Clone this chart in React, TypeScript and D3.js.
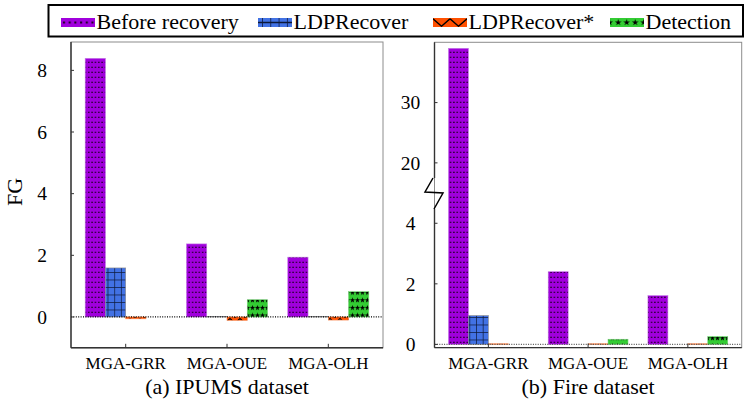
import * as d3 from "d3";
import React from "react";

const methods = ["MGA-GRR", "MGA-OUE", "MGA-OLH"];
const seriesNames = ["Before recovery", "LDPRecover", "LDPRecover*", "Detection"];

// (a) IPUMS dataset, FG values
const ipumsBefore = [8.39, 2.37, 1.94];
const ipumsLdp = [1.59, 0.02, 0.01];
const ipumsLdpStar = [-0.06, -0.11, -0.1];
const ipumsDetection = [0, 0.56, 0.82];
const ipumsTicks = [0, 2, 4, 6, 8];

// (b) Fire dataset, FG values (broken axis between 5 and 15)
const fireBefore = [39.0, 2.4, 1.61];
const fireLdp = [0.95, 0, 0];
const fireLdpStar = [0.02, 0.02, 0.02];
const fireDetection = [0, 0.17, 0.26];
const fireTicks = [0, 2, 4, 20, 30];

const font = "Liberation Serif";
const fills = ["url(#p-before)", "url(#p-ldp)", "url(#p-ldpstar)", "url(#p-detect)"];
const strokes = ["#c47ae6", "#8a8a8a", "#ff8a50", "#7ad67a"];
const starPath = d3.symbol(d3.symbolStar, 9)() as string;

const Panel = ({ x0, x1, top, bottom, y, data, ticks, labelX, title, zeroColor, brk }: any) => {
  const x = d3.scalePoint<string>().domain(methods).range([x0, x1]).padding(0.54);
  const bw = x.step() * 0.2;
  const inner = d3.scaleBand<number>().domain(d3.range(4)).range([-2 * bw, 2 * bw]);
  const y0 = y(0);
  const by = brk !== undefined ? y(brk) : null;

  return (
    <g>
      {methods.map((m, i) =>
        data.map((s: number[], k: number) => {
          const v = s[i];
          const yy = y(v);
          return (
            <rect
              key={m + k}
              x={(x(m) as number) + (inner(k) as number)}
              y={Math.min(yy, y0)}
              width={inner.bandwidth()}
              height={Math.abs(yy - y0)}
              fill={fills[k]}
              stroke={strokes[k]}
              strokeWidth={0.6}
            />
          );
        })
      )}
      <line x1={x0} x2={x1} y1={y0} y2={y0} stroke={zeroColor} strokeWidth={1.2} strokeDasharray="1,1.4" />
      <rect x={x0} y={top} width={x1 - x0} height={bottom - top} fill="none" stroke="#8c8c8c" strokeWidth={1} />
      <line x1={x0} x2={x1} y1={bottom} y2={bottom} stroke="#333" strokeWidth={1.4} />
      {by === null ? (
        <line x1={x0} x2={x0} y1={top} y2={bottom} stroke="#333" strokeWidth={1.4} />
      ) : (
        <g>
          <line x1={x0} x2={x0} y1={top} y2={by - 15} stroke="#333" strokeWidth={1.4} />
          <line x1={x0} x2={x0} y1={by + 16} y2={bottom} stroke="#333" strokeWidth={1.4} />
          <path
            d={`M${x0 - 1.5},${by - 15}L${x0 - 9.5},${by - 1}L${x0 + 8.5},${by}L${x0 - 0.5},${by + 16}`}
            fill="none"
            stroke="#000"
            strokeWidth={1.5}
          />
        </g>
      )}
      {ticks.map((t: number) => (
        <g key={t}>
          <line x1={x0} x2={x0 + 3} y1={y(t)} y2={y(t)} stroke="#333" />
          <text x={labelX} y={y(t) + 6.8} textAnchor="middle" fontSize={19.5} fontFamily={font}>
            {t}
          </text>
        </g>
      ))}
      {methods.map((m) => (
        <g key={m}>
          <line x1={x(m)} x2={x(m)} y1={bottom} y2={bottom - 4} stroke="#333" />
          <text x={x(m)} y={369} textAnchor="middle" fontSize={17} fontFamily={font}>
            {m}
          </text>
        </g>
      ))}
      <text x={(x0 + x1) / 2} y={394} textAnchor="middle" fontSize={22} fontFamily={font}>
        {title}
      </text>
    </g>
  );
};

const legendX = [61, 258, 433, 610];

export default function App() {
  const yIpums = d3.scaleLinear().domain([-1, 8.92]).range([347.8, 42]);
  const yFire = d3.scaleLinear().domain([0, 5, 15, 40]).range([344.4, 193, 193, 42.3]);

  return (
    <svg width={747} height={404} style={{ position: "absolute", left: 0, top: 0, background: "#fff" }}>
      <defs>
        <pattern id="p-before" patternUnits="userSpaceOnUse" width={3.35} height={5}>
          <rect width={3.35} height={5} fill="#a000dc" />
          <rect x={1} y={1.7} width={1.3} height={1.3} fill="#1a0020" />
        </pattern>
        <pattern id="p-ldp" patternUnits="userSpaceOnUse" width={6.7} height={7.5} x={0.3} y={2}>
          <rect width={6.7} height={7.5} fill="#4272e4" />
          <line x1={0} x2={0} y1={0} y2={7.5} stroke="#0c1838" strokeWidth={1.4} />
          <line x1={0} x2={6.7} y1={0} y2={0} stroke="#0c1838" strokeWidth={1.4} />
        </pattern>
        <pattern id="p-ldpstar" patternUnits="userSpaceOnUse" width={10} height={6}>
          <rect width={10} height={6} fill="#ff5000" />
          <path d="M0,0.5L5,5.5L10,0.5" fill="none" stroke="#000" strokeWidth={1.2} />
        </pattern>
        <pattern id="p-detect" patternUnits="userSpaceOnUse" width={5} height={7.6}>
          <rect width={5} height={7.6} fill="#33cc33" />
          <path d={starPath} transform="translate(2.5,3.8)" fill="#000" />
        </pattern>
        {/* legend swatch patterns */}
        <pattern id="l-before" patternUnits="userSpaceOnUse" x={legendX[0]} y={18} width={5.7} height={9}>
          <rect width={5.7} height={9} fill="#a000dc" />
          <rect x={2} y={3.5} width={2} height={2} fill="#1a0020" />
        </pattern>
        <pattern id="l-ldp" patternUnits="userSpaceOnUse" x={legendX[1] + 4} y={18} width={8.3} height={9}>
          <rect width={8.3} height={9} fill="#4272e4" />
          <line x1={0} x2={0} y1={0} y2={9} stroke="#0c1838" strokeWidth={1.5} />
          <line x1={0} x2={8.3} y1={4.5} y2={4.5} stroke="#0c1838" strokeWidth={1.5} />
        </pattern>
        <pattern id="l-ldpstar" patternUnits="userSpaceOnUse" x={legendX[2]} y={18} width={17} height={9}>
          <rect width={17} height={9} fill="#ff5000" />
          <path d="M0,0.8L8.5,8.2L17,0.8" fill="none" stroke="#000" strokeWidth={1.4} />
        </pattern>
        <pattern id="l-detect" patternUnits="userSpaceOnUse" x={legendX[3] + 4} y={18} width={8.5} height={9}>
          <rect width={8.5} height={9} fill="#33cc33" />
          <path d={d3.symbol(d3.symbolStar, 14)() as string} transform="translate(4.2,4.5)" fill="#000" />
        </pattern>
      </defs>

      <Panel
        x0={71}
        x1={383}
        top={42}
        bottom={347.8}
        y={yIpums}
        data={[ipumsBefore, ipumsLdp, ipumsLdpStar, ipumsDetection]}
        ticks={ipumsTicks}
        labelX={42}
        title="(a) IPUMS dataset"
        zeroColor="#000"
      />
      <Panel
        x0={434.5}
        x1={741.7}
        top={42.3}
        bottom={347.6}
        y={yFire}
        data={[fireBefore, fireLdp, fireLdpStar, fireDetection]}
        ticks={fireTicks}
        labelX={410.5}
        title="(b) Fire dataset"
        zeroColor="#555"
        brk={10}
      />

      <text transform="translate(22,192) rotate(-90)" textAnchor="middle" fontSize={22} fontFamily={font}>
        FG
      </text>

      <rect x={48.5} y={5} width={694.5} height={31.5} fill="#fff" stroke="#000" strokeWidth={2} />
      {seriesNames.map((name, k) => (
        <g key={name}>
          <rect x={legendX[k]} y={18} width={34} height={9} fill={`url(#l-${["before", "ldp", "ldpstar", "detect"][k]})`} />
          <text x={legendX[k] + 35.5} y={28.5} fontSize={22} fontFamily={font}>
            {name}
          </text>
        </g>
      ))}
    </svg>
  );
}
